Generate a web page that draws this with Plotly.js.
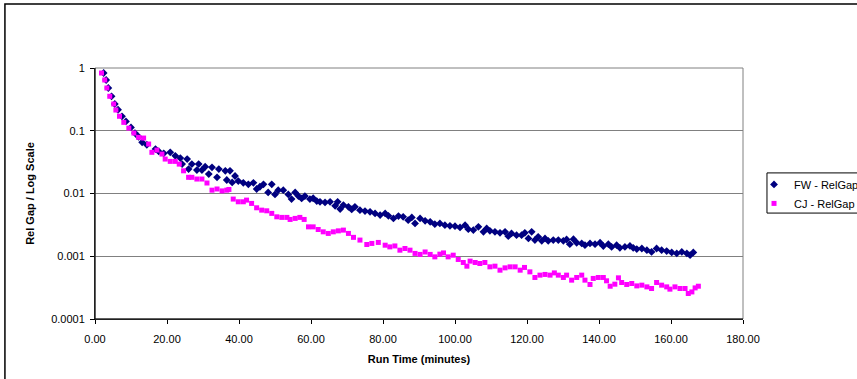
<!DOCTYPE html>
<html>
<head>
<meta charset="utf-8">
<script src="https://cdn.plot.ly/plotly-3.0.1.min.js"></script>
<style>html,body{margin:0;padding:0;background:#fff;overflow:hidden}</style>
</head>
<body>
<div id="chart" style="width:857px;height:379px"></div>
<script>
// FW - RelGap (run time in minutes, relative gap)
var fwTime = [2.4,3.1,3.7,4.6,5.5,6.4,7.5,8.6,10.0,11.1,12.1,13.1,14.4,16.8,17.7,19.1,20.9,22.3,23.7,24.2,25.6,26.0,26.9,28.3,28.8,29.7,30.6,31.6,32.5,33.9,34.4,36.2,36.6,37.5,38.1,38.9,39.8,41.2,42.6,44.0,44.9,45.8,46.8,48.1,49.1,50.0,50.9,52.3,53.7,54.6,55.6,56.5,57.4,58.3,59.7,60.6,61.6,62.5,63.9,65.3,66.7,67.4,68.1,69.0,70.4,71.3,72.2,73.6,75.0,76.4,77.8,79.2,80.6,81.5,82.9,84.3,85.6,87.0,88.0,88.9,90.3,91.7,93.1,94.4,95.8,97.2,98.6,100.0,101.4,102.8,103.7,105.1,106.5,107.9,108.8,109.7,111.1,112.5,113.9,114.8,115.7,117.1,118.5,119.4,120.4,121.3,122.2,123.1,124.1,125.0,125.9,127.3,128.7,130.1,131.0,131.9,132.9,133.8,135.2,136.1,137.5,138.9,140.3,141.2,142.6,143.5,144.9,145.8,147.2,148.6,149.5,150.5,151.9,153.3,154.6,156.0,157.4,158.8,160.2,161.6,163.0,164.4,165.3,166.2];
var fwGap = [0.832,0.644,0.480,0.354,0.267,0.216,0.170,0.141,0.113,0.0919,0.0802,0.0653,0.0598,0.0511,0.0469,0.0436,0.0453,0.0399,0.0367,0.0294,0.0354,0.0245,0.0294,0.0236,0.0294,0.0236,0.0267,0.0204,0.0261,0.0181,0.0245,0.0230,0.0164,0.0230,0.0150,0.0190,0.0158,0.0148,0.0140,0.0148,0.0118,0.0128,0.0140,0.0104,0.0140,0.00968,0.0113,0.0113,0.00968,0.00815,0.0104,0.00910,0.00836,0.00910,0.00815,0.00840,0.00757,0.00738,0.00721,0.00738,0.00637,0.00738,0.00564,0.00653,0.00614,0.00558,0.00614,0.00543,0.00524,0.00511,0.00482,0.00453,0.00482,0.00441,0.00401,0.00436,0.00425,0.00376,0.00416,0.00334,0.00401,0.00367,0.00354,0.00325,0.00334,0.00313,0.00305,0.00302,0.00288,0.00313,0.00270,0.00261,0.00294,0.00245,0.00277,0.00254,0.00245,0.00236,0.00245,0.00209,0.00231,0.00217,0.00217,0.00236,0.00192,0.00245,0.00181,0.00204,0.00176,0.00192,0.00176,0.00181,0.00181,0.00176,0.00185,0.00156,0.00187,0.00164,0.00160,0.00150,0.00160,0.00156,0.00164,0.00145,0.00156,0.00141,0.00150,0.00136,0.00141,0.00146,0.00136,0.00130,0.00133,0.00125,0.00117,0.00133,0.00125,0.00121,0.00115,0.00111,0.00117,0.00111,0.00104,0.00115];

// CJ - RelGap
var cjTime = [1.8,2.7,3.3,4.1,5.2,5.8,6.8,8.0,9.4,10.8,12.1,13.5,14.9,15.8,17.2,18.6,19.5,20.9,22.3,23.4,24.6,26.0,26.9,28.3,29.7,31.1,32.5,33.9,35.3,36.6,37.2,38.4,39.8,41.2,42.1,43.5,44.9,46.3,47.7,49.1,50.5,51.9,53.3,54.2,55.6,56.9,58.1,59.3,60.6,62.0,63.4,64.8,66.2,67.6,69.0,70.4,71.8,73.6,75.5,76.9,78.7,80.6,81.9,83.3,84.7,86.1,87.5,88.9,90.3,91.7,93.1,94.4,95.8,96.8,98.1,99.5,100.9,102.3,103.3,104.2,105.6,106.9,108.3,109.7,111.1,112.5,113.9,115.3,116.7,118.1,119.3,120.8,122.2,123.6,125.0,126.4,127.6,128.7,130.1,131.0,132.4,133.8,135.2,136.1,137.5,138.4,139.8,141.2,142.1,143.1,144.4,145.4,146.3,147.7,149.1,150.5,151.9,153.3,154.6,156.0,157.4,158.8,159.7,161.1,162.5,163.9,164.8,165.8,166.7,167.6];
var cjGap = [0.832,0.644,0.480,0.354,0.267,0.214,0.170,0.136,0.110,0.0919,0.0785,0.0765,0.0614,0.0453,0.0492,0.0425,0.0354,0.0325,0.0325,0.0294,0.0230,0.0181,0.0181,0.0170,0.0170,0.0147,0.0113,0.0118,0.0110,0.0113,0.0116,0.00815,0.00738,0.00738,0.00785,0.00695,0.00592,0.00543,0.00530,0.00482,0.00425,0.00416,0.00416,0.00386,0.00401,0.00416,0.00386,0.00294,0.00294,0.00267,0.00245,0.00231,0.00245,0.00254,0.00261,0.00231,0.00200,0.00181,0.00154,0.00160,0.00166,0.00150,0.00141,0.00146,0.00125,0.00133,0.00125,0.00111,0.00107,0.00117,0.00107,0.000978,0.00108,0.00113,0.000978,0.00104,0.000889,0.000796,0.000695,0.000836,0.000796,0.000767,0.000796,0.000678,0.000695,0.000600,0.000653,0.000678,0.000678,0.000600,0.000663,0.000564,0.000459,0.000500,0.000513,0.000500,0.000543,0.000500,0.000459,0.000500,0.000416,0.000459,0.000500,0.000416,0.000355,0.000443,0.000459,0.000459,0.000406,0.000333,0.000359,0.000453,0.000382,0.000355,0.000368,0.000337,0.000346,0.000325,0.000306,0.000382,0.000346,0.000325,0.000299,0.000325,0.000306,0.000306,0.000255,0.000270,0.000313,0.000333];

var yTickVals = [0.0001, 0.001, 0.01, 0.1, 1];
var yTickText = ['0.0001', '0.001', '0.01', '0.1', '1'];
var xTickVals = [0, 20, 40, 60, 80, 100, 120, 140, 160, 180];

var font = 'Arial, "Liberation Sans", sans-serif';

var traces = [
  {x: fwTime, y: fwGap, name: 'FW - RelGap', type: 'scatter', mode: 'markers',
   marker: {symbol: 'diamond', size: 6, color: '#000080'}},
  {x: cjTime, y: cjGap, name: 'CJ - RelGap', type: 'scatter', mode: 'markers',
   marker: {symbol: 'square', size: 5, color: '#FF00FF'}}
];

var layout = {
  width: 857, height: 379,
  margin: {l: 95, r: 114, t: 68, b: 60, autoexpand: false},
  paper_bgcolor: '#ffffff', plot_bgcolor: '#ffffff',
  font: {family: font, size: 11, color: '#000000'},
  showlegend: true,
  legend: {x: 1.017, y: 0.594, xanchor: 'left', yanchor: 'top',
           borderwidth: 0, bgcolor: 'rgba(0,0,0,0)',
           font: {family: font, size: 11, color: '#000000'},
           tracegroupgap: 0, itemsizing: 'trace'},
  xaxis: {
    range: [0, 180], tickvals: xTickVals, tickformat: '.2f',
    showgrid: false, zeroline: false,
    showline: true, linecolor: '#000000', linewidth: 1, mirror: false,
    ticks: 'outside', ticklen: 4, tickcolor: '#000000', ticklabelstandoff: 6,
    tickfont: {family: font, size: 11},
    title: {text: '<b>Run Time (minutes)</b>', font: {family: font, size: 11}, standoff: 11}
  },
  yaxis: {
    type: 'log', range: [-4, 0], tickvals: yTickVals, ticktext: yTickText,
    showgrid: true, gridcolor: '#808080', gridwidth: 1, zeroline: false,
    showline: true, linecolor: '#000000', linewidth: 1,
    ticks: 'outside', ticklen: 4, tickcolor: '#000000', ticklabelstandoff: 3,
    tickfont: {family: font, size: 11},
    title: {text: '<b>Rel Gap / Log Scale</b>', font: {family: font, size: 11}, standoff: 14}
  },
  shapes: [
    {type: 'rect', xref: 'paper', yref: 'paper', x0: 0, x1: 1, y0: 0, y1: 1,
     line: {color: '#808080', width: 1}, fillcolor: 'rgba(0,0,0,0)', layer: 'above'},
    {type: 'line', xref: 'paper', yref: 'paper', x0: 0, x1: 0, y0: 0, y1: 1,
     line: {color: '#000000', width: 1}, layer: 'above'},
    {type: 'line', xref: 'paper', yref: 'paper', x0: 0, x1: 1, y0: 0, y1: 0,
     line: {color: '#000000', width: 1}, layer: 'above'},
    // legend box
    {type: 'rect', xref: 'paper', yref: 'paper', x0: 1.037, x1: 1.2, y0: 0.422, y1: 0.582,
     line: {color: '#000000', width: 1}, fillcolor: 'rgba(0,0,0,0)'},
    // chart area border
    {type: 'rect', xref: 'paper', yref: 'paper', x0: -0.139, x1: 1.5, y0: -0.5, y1: 1.255,
     line: {color: '#000000', width: 1.5}, fillcolor: 'rgba(0,0,0,0)'}
  ]
};

Plotly.newPlot('chart', traces, layout, {displayModeBar: false, staticPlot: true});
</script>
</body>
</html>
